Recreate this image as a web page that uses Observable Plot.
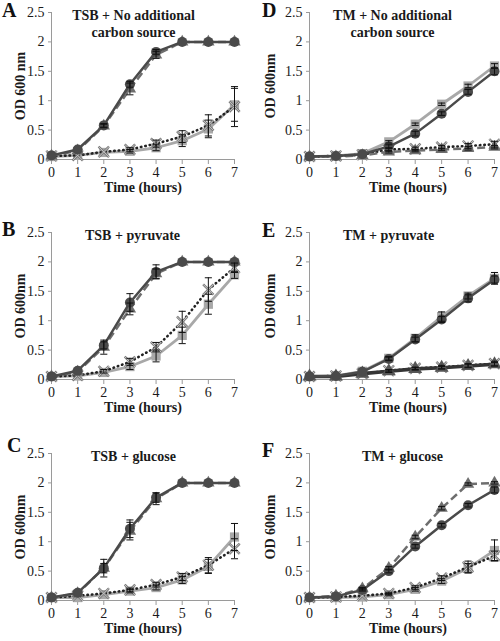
<!DOCTYPE html>
<html>
<head>
<meta charset="utf-8">
<script src="https://cdn.jsdelivr.net/npm/d3@7"></script>
<script src="https://cdn.jsdelivr.net/npm/@observablehq/plot@0.6"></script>
<style>
  html, body { margin: 0; padding: 0; background: #fff; }
  #wrap { position: relative; width: 500px; height: 641px; overflow: hidden; background: #fff; }
  .cell { position: absolute; width: 250px; height: 215px; }
  .letter { position: absolute; font-family: 'Liberation Serif'; font-weight: bold; font-size: 20px; line-height: 1; color: #111; }
</style>
</head>
<body>
<div id="wrap"></div>
<script>
// ---- data ----
const hours = [0, 1, 2, 3, 4, 5, 6, 7];
const yTicks = [0, 0.5, 1, 1.5, 2, 2.5];
const seriesNames = ["circle", "triangle", "square", "cross"];

const panelTitles = ["TSB + No additional\ncarbon source", "TSB + pyruvate", "TSB + glucose",
                     "TM + No additional\ncarbon source", "TM + pyruvate", "TM + glucose"];
const panelLetters = ["A", "B", "C", "D", "E", "F"];
const yLabels = ["OD 600 nm", "OD 600nm", "OD 600nm", "OD 600nm", "OD 600nm", "OD 600nm"];

// values per panel: [circle, triangle, square, cross]
const panelA = [
  [0.07, 0.17, 0.58, 1.28, 1.83, 2.0, 2.0, 2.0],
  [0.06, 0.15, 0.57, 1.20, 1.78, 2.0, 2.0, 2.0],
  [0.05, 0.07, 0.12, 0.14, 0.20, 0.32, 0.52, 0.93],
  [0.06, 0.07, 0.13, 0.17, 0.27, 0.39, 0.58, 0.90]
];
const panelB = [
  [0.05, 0.15, 0.58, 1.31, 1.83, 2.0, 2.0, 2.0],
  [0.05, 0.13, 0.55, 1.20, 1.80, 2.0, 2.0, 2.0],
  [0.05, 0.06, 0.12, 0.22, 0.40, 0.75, 1.28, 1.78],
  [0.05, 0.07, 0.14, 0.30, 0.55, 0.98, 1.53, 1.90]
];
const panelC = [
  [0.05, 0.13, 0.55, 1.22, 1.75, 2.0, 2.0, 2.0],
  [0.05, 0.12, 0.55, 1.18, 1.73, 2.0, 2.0, 2.0],
  [0.05, 0.05, 0.10, 0.16, 0.22, 0.35, 0.58, 1.08],
  [0.05, 0.08, 0.12, 0.18, 0.27, 0.40, 0.60, 0.88]
];
const panelD = [
  [0.05, 0.06, 0.09, 0.22, 0.44, 0.78, 1.15, 1.50],
  [0.05, 0.05, 0.07, 0.13, 0.15, 0.17, 0.19, 0.21],
  [0.05, 0.06, 0.10, 0.30, 0.60, 0.94, 1.25, 1.59],
  [0.05, 0.06, 0.08, 0.17, 0.18, 0.21, 0.23, 0.26]
];
const panelE = [
  [0.05, 0.06, 0.13, 0.35, 0.68, 1.02, 1.38, 1.70],
  [0.05, 0.05, 0.10, 0.14, 0.18, 0.20, 0.23, 0.26],
  [0.05, 0.06, 0.14, 0.36, 0.70, 1.07, 1.42, 1.72],
  [0.05, 0.06, 0.10, 0.15, 0.19, 0.21, 0.24, 0.27]
];
const panelF = [
  [0.05, 0.07, 0.18, 0.50, 0.92, 1.28, 1.62, 1.88],
  [0.05, 0.08, 0.20, 0.55, 1.08, 1.57, 1.98, 2.0],
  [0.05, 0.05, 0.06, 0.10, 0.19, 0.33, 0.55, 0.85],
  [0.05, 0.06, 0.08, 0.12, 0.22, 0.38, 0.57, 0.76]
];

// error half-widths per panel: [circle, triangle, square, cross]
const errA = [
  [0, 0, 0.03, 0.05, 0.04, 0, 0, 0],
  [0, 0, 0.03, 0.10, 0.06, 0, 0, 0],
  [0, 0, 0, 0.03, 0.05, 0.10, 0.15, 0.28],
  [0, 0, 0, 0.03, 0.06, 0.10, 0.18, 0.34]
];
const errB = [
  [0, 0, 0.06, 0.15, 0.12, 0, 0, 0],
  [0, 0, 0.12, 0.10, 0.08, 0, 0, 0],
  [0, 0, 0, 0.05, 0.10, 0.14, 0.17, 0.06],
  [0, 0, 0.03, 0.06, 0.08, 0.18, 0.20, 0.08]
];
const errC = [
  [0, 0, 0.08, 0.15, 0.08, 0, 0, 0],
  [0, 0, 0.15, 0.15, 0.10, 0, 0, 0],
  [0, 0, 0, 0.03, 0.04, 0.06, 0.12, 0.23],
  [0, 0, 0, 0.03, 0.04, 0.06, 0.13, 0.17]
];
const errD = [
  [0, 0, 0, 0.03, 0.04, 0.03, 0.04, 0.06],
  [0, 0, 0, 0.02, 0.02, 0.02, 0.03, 0.03],
  [0, 0, 0, 0.02, 0.02, 0.02, 0.03, 0.04],
  [0, 0, 0, 0.03, 0.03, 0.03, 0.04, 0.05]
];
const errE = [
  [0, 0, 0, 0.03, 0.04, 0.05, 0.06, 0.06],
  [0, 0, 0, 0.02, 0.02, 0.02, 0.03, 0.03],
  [0, 0, 0, 0.03, 0.06, 0.08, 0.05, 0.10],
  [0, 0, 0, 0.02, 0.02, 0.03, 0.03, 0.04]
];
const errF = [
  [0, 0, 0.02, 0.03, 0.03, 0.03, 0.03, 0.05],
  [0, 0, 0.02, 0.03, 0.03, 0.03, 0.02, 0.02],
  [0, 0, 0, 0.02, 0.03, 0.04, 0.08, 0.18],
  [0, 0, 0, 0.02, 0.03, 0.04, 0.10, 0.08]
];

const panelValues = [panelA, panelB, panelC, panelD, panelE, panelF];
const panelErrors = [errA, errB, errC, errD, errE, errF];

// ---- styles ----
const seriesStyle = {
  circle:   {stroke: "#4a4a4a", dash: null,      width: 2.5, symbol: "circle",   fill: "#4a4a4a", r: 5},
  triangle: {stroke: "#6e6e6e", dash: "8,4",     width: 2.5, symbol: "triangle", fill: "#6e6e6e", r: 4.6},
  square:   {stroke: "#a8a8a8", dash: null,      width: 2.8, symbol: "square",   fill: "#a8a8a8", r: 5.2},
  cross:    {stroke: "#222222", dash: "0.5,4",   width: 2.6, symbol: "times",    fill: "none",    r: 4.8}
};
// panel E draws its triangle series as a solid dark line
const triangleOverrideE = {stroke: "#353535", dash: null, width: 3.6, symbol: "triangle", fill: "#555555", r: 5.2};
const drawOrder = ["square", "cross", "triangle", "circle"];

const capSymbol = {
  draw(context, size) {
    const w = Math.sqrt(size) / 2;
    context.moveTo(-w, 0);
    context.lineTo(w, 0);
  }
};

const layout = [
  {left: 0,   top: 0,   ml: 51, mr: 16, ylDx: -31, tDx: 82, xtDx: 0},
  {left: 0,   top: 220, ml: 51, mr: 16, ylDx: -31, tDx: 81, xtDx: 0},
  {left: 0,   top: 441, ml: 51, mr: 16, ylDx: -31, tDx: 82, xtDx: 0},
  {left: 250, top: 0,   ml: 59, mr: 6,  ylDx: -39, tDx: 83, xtDx: 6},
  {left: 250, top: 220, ml: 59, mr: 6,  ylDx: -39, tDx: 79, xtDx: 6},
  {left: 250, top: 441, ml: 59, mr: 6,  ylDx: -39, tDx: 93, xtDx: 6}
];
const letterPos = [
  {left: 2, top: 0}, {left: 2, top: 219}, {left: 7, top: 435},
  {left: 262, top: 0}, {left: 262, top: 220}, {left: 262, top: 440}
];

const wrap = document.getElementById("wrap");

panelValues.forEach((vals, p) => {
  const L = layout[p];
  const rows = [];
  seriesNames.forEach((s, i) => {
    hours.forEach((t, j) => {
      rows.push({series: s, t, v: vals[i][j], e: panelErrors[p][i][j]});
    });
  });
  const errRows = rows.filter(d => d.e > 0.015);

  const marks = [];
  for (const s of drawOrder) {
    const st = (p === 4 && s === "triangle") ? triangleOverrideE : seriesStyle[s];
    const data = rows.filter(d => d.series === s);
    marks.push(Plot.line(data, {
      x: "t", y: "v", stroke: st.stroke, strokeWidth: st.width,
      strokeDasharray: st.dash, strokeLinecap: s === "cross" ? "round" : "butt"
    }));
    if (st.symbol === "times") {
      marks.push(Plot.dot(data, {x: "t", y: "v", symbol: "times", r: st.r, stroke: "#7a7a7a", strokeWidth: 2.4}));
      marks.push(Plot.dot(data, {x: "t", y: "v", symbol: "times", r: st.r, stroke: "#c4c4c4", strokeWidth: 1}));
    } else {
      marks.push(Plot.dot(data, {x: "t", y: "v", symbol: st.symbol, r: st.r, fill: st.fill, stroke: "none"}));
    }
  }
  marks.push(
    Plot.ruleX(errRows, {x: "t", y1: d => d.v - d.e, y2: d => d.v + d.e, stroke: "#111", strokeWidth: 1}),
    Plot.dot(errRows, {x: "t", y: d => d.v - d.e, symbol: capSymbol, r: 4, stroke: "#111", strokeWidth: 1, fill: "none"}),
    Plot.dot(errRows, {x: "t", y: d => d.v + d.e, symbol: capSymbol, r: 4, stroke: "#111", strokeWidth: 1, fill: "none"})
  );

  const chart = Plot.plot({
    width: 250,
    height: 215,
    marginTop: 12,
    marginBottom: 56,
    marginLeft: L.ml,
    marginRight: L.mr,
    style: {fontFamily: "Liberation Serif", fontSize: "14px", color: "#1a1a1a", background: "transparent", overflow: "visible"},
    x: {domain: [0, 7]},
    y: {domain: [0, 2.5]},
    marks: [
      Plot.ruleY([0], {stroke: "#9a9a9a", strokeWidth: 1}),
      Plot.ruleX([0], {stroke: "#9a9a9a", strokeWidth: 1}),
      Plot.axisX({ticks: hours, tickSize: 5, tickPadding: 3, stroke: "#9a9a9a", label: null, fontSize: 14, tickFormat: d => String(d)}),
      Plot.axisY({ticks: yTicks, tickSize: 3, tickPadding: 4, stroke: "#9a9a9a", label: null, fontSize: 14, tickFormat: d => String(d)}),
      ...marks,
      Plot.text([panelTitles[p]], {frameAnchor: "top-left", dx: L.tDx, dy: -4, lineAnchor: "top", textAnchor: "middle",
        text: d => d, fontWeight: "bold", fontSize: 14, lineHeight: 1.2, fill: "#1a1a1a"}),
      Plot.text(["Time (hours)"], {frameAnchor: "bottom", dy: 32, dx: L.xtDx, text: d => d, fontWeight: "bold", fontSize: 14, fill: "#1a1a1a"}),
      Plot.text([yLabels[p]], {frameAnchor: "left", dx: L.ylDx, rotate: -90, textAnchor: "middle", lineAnchor: "middle",
        text: d => d, fontWeight: "bold", fontSize: 14, fill: "#1a1a1a"})
    ]
  });
  const cell = document.createElement("div");
  cell.className = "cell";
  cell.style.left = L.left + "px";
  cell.style.top = L.top + "px";
  cell.appendChild(chart);
  wrap.appendChild(cell);

  const letter = document.createElement("div");
  letter.className = "letter";
  letter.textContent = panelLetters[p];
  letter.style.left = letterPos[p].left + "px";
  letter.style.top = letterPos[p].top + "px";
  wrap.appendChild(letter);
});
</script>
</body>
</html>
